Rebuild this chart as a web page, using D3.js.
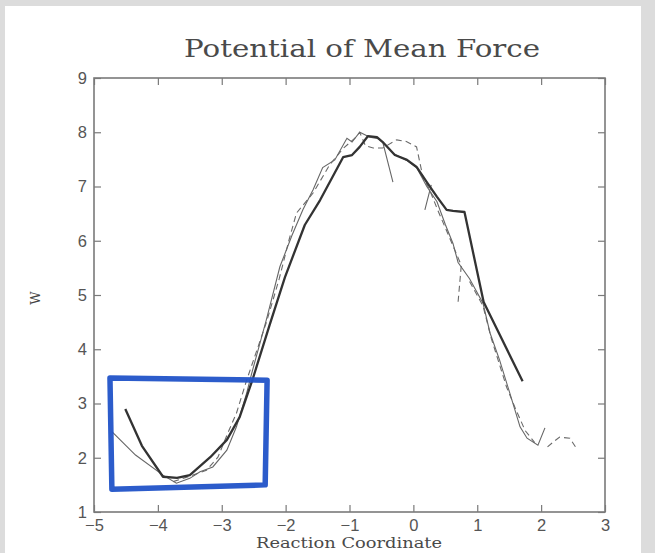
<!DOCTYPE html>
<html>
<head>
<meta charset="utf-8">
<script src="https://cdn.jsdelivr.net/npm/d3@7"></script>
<style>
  html, body { margin: 0; padding: 0; background: #dcdcdc; }
  .paper { position: absolute; left: 5px; top: 6px; }
</style>
</head>
<body>
<div class="graph"></div>
<script>
// Tick values
var xTicks = [-5, -4, -3, -2, -1, 0, 1, 2, 3];
var yTicks = [1, 2, 3, 4, 5, 6, 7, 8, 9];

// Averaged PMF (thick line)
var thickX = [-4.51, -4.25, -3.92, -3.70, -3.50, -3.18, -2.92, -2.72, -2.51, -2.25, -2.01, -1.70, -1.46, -1.10, -0.96, -0.84, -0.71, -0.57, -0.48, -0.29, -0.10, 0.05, 0.21, 0.37, 0.52, 0.62, 0.80, 1.10, 1.71];
var thickY = [2.90, 2.22, 1.65, 1.63, 1.68, 2.01, 2.33, 2.75, 3.47, 4.45, 5.33, 6.29, 6.75, 7.54, 7.58, 7.73, 7.93, 7.91, 7.82, 7.58, 7.49, 7.36, 7.08, 6.81, 6.57, 6.55, 6.53, 4.87, 3.41];

// Window curves, thin solid (NaN = break)
var thinX = [-4.72, -4.35, -3.92, -3.71, -3.50, -3.34, -3.14, -2.92, -2.77, -2.61, -2.53, -2.30, -2.09, -1.90, -1.73, -1.57, -1.42, -1.23, -1.04, -0.96, -0.84, -0.68, -0.55, -0.48, -0.32, NaN,
             -0.30, -0.10, 0.05, 0.21, 0.37, 0.50, 0.62, 0.70, 0.88, 1.09, 1.20, 1.35, 1.51, 1.67, 1.78, 1.95, 2.06, NaN,
             0.28, 0.18];
var thinY = [2.48, 2.05, 1.68, 1.53, 1.62, 1.74, 1.83, 2.14, 2.57, 3.19, 3.56, 4.55, 5.52, 6.10, 6.57, 6.94, 7.35, 7.49, 7.89, 7.82, 8.00, 7.91, 7.88, 7.82, 7.08, NaN,
             7.60, 7.48, 7.35, 7.00, 6.72, 6.30, 5.95, 5.60, 5.30, 4.85, 4.30, 3.80, 3.19, 2.57, 2.36, 2.23, 2.55, NaN,
             7.03, 6.57];

// Window curves, dashed (NaN = break)
var dashX = [-3.76, -3.45, -3.24, -3.06, -2.90, -2.77, -2.61, -2.30, -2.10, -1.95, -1.83, -1.57, -1.31, -1.10, -0.89, -0.84, -0.75, -0.63, -0.48, -0.26, -0.11, 0.05, 0.15, 0.25, 0.38, 0.55, 0.75, 0.70, NaN,
             0.88, 1.09, 1.22, 1.46, 1.60, 1.75, 1.90, NaN,
             2.10, 2.20, 2.29, 2.45, 2.55];
var dashY = [1.56, 1.68, 1.77, 2.01, 2.47, 2.82, 3.43, 4.50, 5.30, 6.00, 6.51, 6.88, 7.40, 7.70, 7.92, 8.00, 7.75, 7.71, 7.71, 7.86, 7.83, 7.73, 7.17, 6.95, 6.57, 6.10, 5.55, 4.87, NaN,
             5.25, 4.80, 4.20, 3.30, 2.90, 2.50, 2.28, NaN,
             2.20, 2.30, 2.38, 2.36, 2.18];

// Hand-drawn highlight box (data units)
var boxX = [-4.75, -2.29, -2.32, -4.72];
var boxY = [3.47, 3.43, 1.50, 1.42];

var width = 636;
var height = 547;
var margin = {left: 89, top: 72};

var svg = d3.select(".graph").append("svg")
    .attr("class", "paper")
    .attr("width", width)
    .attr("height", height)
    .style("background", "#ffffff");

var g = svg.append("g").attr("transform", "translate(" + margin.left + "," + margin.top + ")");

var x = d3.scaleLinear().domain([-5, 3]).range([0, 511]);
var y = d3.scaleLinear().domain([1, 9]).range([434, 0]);

var axisColor = "#7a7a7a";
var labelFont = "'Liberation Sans', Arial, sans-serif";
var serifFont = "'DejaVu Serif', serif";

function styleAxis(sel, labels) {
    sel.select(".domain").remove();
    sel.selectAll(".tick line").attr("stroke", axisColor).attr("stroke-width", 1.2);
    sel.selectAll(".tick text")
        .attr("fill", labels ? "#555" : "none")
        .style("font-family", labelFont)
        .style("font-size", "16.5px");
}

// Axes with inner ticks
g.append("g")
    .attr("transform", "translate(0," + y(1) + ")")
    .call(d3.axisBottom(x).tickValues(xTicks).tickSize(-7).tickPadding(7))
    .call(styleAxis, true);
g.append("g")
    .call(d3.axisTop(x).tickValues(xTicks).tickSize(-7).tickFormat(""))
    .call(styleAxis, false);
g.append("g")
    .call(d3.axisLeft(y).tickValues(yTicks).tickSize(-7).tickPadding(7))
    .call(styleAxis, true);
g.append("g")
    .attr("transform", "translate(" + x(3) + ",0)")
    .call(d3.axisRight(y).tickValues(yTicks).tickSize(-7).tickFormat(""))
    .call(styleAxis, false);

// Frame
g.append("rect")
    .attr("x", x(-5)).attr("y", y(9))
    .attr("width", x(3) - x(-5)).attr("height", y(1) - y(9))
    .attr("fill", "none").attr("stroke", axisColor).attr("stroke-width", 1.6);

function pts(xs, ys) {
    return xs.map(function (d, i) { return [d, ys[i]]; });
}

var line = d3.line()
    .defined(function (d) { return !isNaN(d[0]) && !isNaN(d[1]); })
    .x(function (d) { return x(d[0]); })
    .y(function (d) { return y(d[1]); });

g.append("path").datum(pts(dashX, dashY))
    .attr("d", line)
    .attr("fill", "none").attr("stroke", "#6a6a6a").attr("stroke-width", 1.1)
    .attr("stroke-dasharray", "6,4");

g.append("path").datum(pts(thinX, thinY))
    .attr("d", line)
    .attr("fill", "none").attr("stroke", "#666").attr("stroke-width", 1.1);

g.append("path").datum(pts(thickX, thickY))
    .attr("d", line)
    .attr("fill", "none").attr("stroke", "#333").attr("stroke-width", 2.3)
    .attr("stroke-linejoin", "round");

// Highlight box
g.append("path").datum(pts(boxX, boxY))
    .attr("d", function (d) { return line(d) + "Z"; })
    .attr("fill", "none").attr("stroke", "#2153c8").attr("stroke-width", 5.5)
    .attr("stroke-linejoin", "round").attr("opacity", 0.95);

// Title and axis labels
svg.append("text")
    .attr("x", 357).attr("y", 51)
    .attr("text-anchor", "middle")
    .attr("fill", "#4a4a4a")
    .attr("textLength", 356).attr("lengthAdjust", "spacingAndGlyphs")
    .style("font-family", serifFont)
    .style("font-size", "25px")
    .text("Potential of Mean Force");

svg.append("text")
    .attr("x", 344).attr("y", 542)
    .attr("text-anchor", "middle")
    .attr("fill", "#4a4a4a")
    .attr("textLength", 186).attr("lengthAdjust", "spacingAndGlyphs")
    .style("font-family", serifFont)
    .style("font-size", "14.5px")
    .text("Reaction Coordinate");

svg.append("text")
    .attr("transform", "translate(35,292) rotate(-90)")
    .attr("text-anchor", "middle")
    .attr("fill", "#444")
    .style("font-family", serifFont)
    .style("font-size", "13px")
    .text("W");
</script>
</body>
</html>
